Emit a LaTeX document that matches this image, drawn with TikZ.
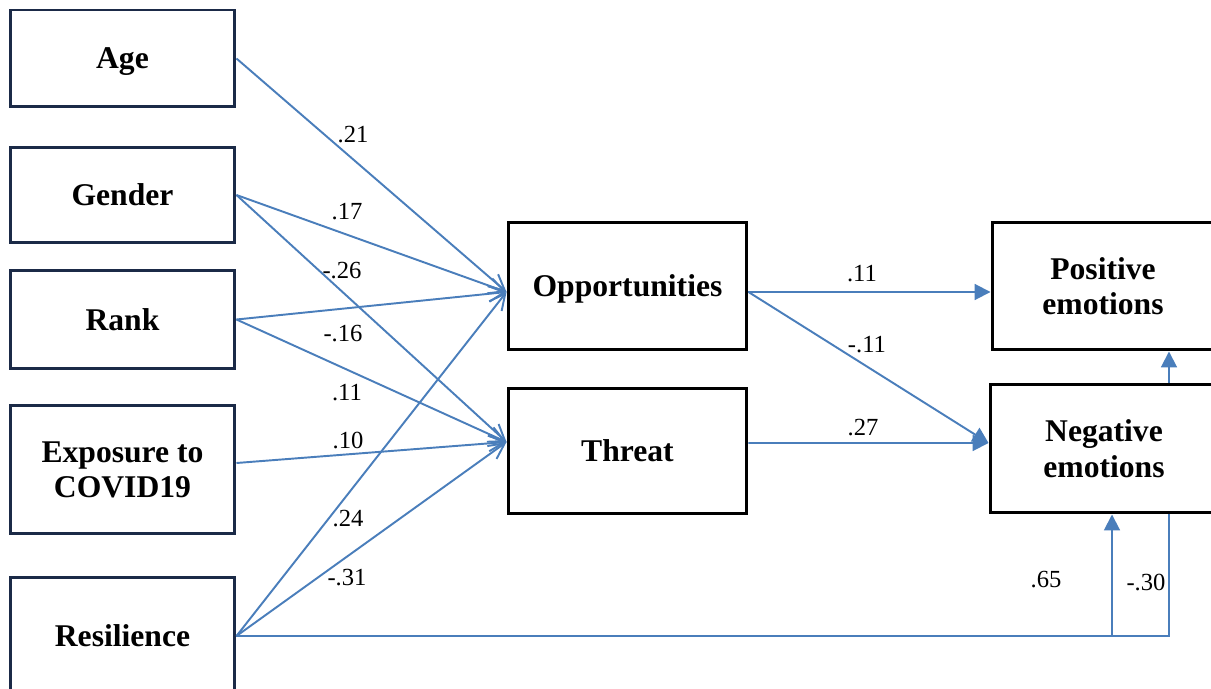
\documentclass[tikz,border=0pt]{standalone}
\usepackage{fontspec}
\setmainfont{Liberation Serif}
\usetikzlibrary{arrows.meta}
\definecolor{pathblue}{HTML}{4A7EBB}
\definecolor{boxnavy}{HTML}{1B2A47}

\begin{document}
\begin{tikzpicture}[x = 0.02cm, y = -0.02cm,
        leftbox/.style = {draw = boxnavy, line width = 1.7pt, minimum width = 4.5cm, align = center, text depth = 0pt, font = \fontsize{18}{20}\selectfont\bfseries},
        rightbox/.style = {draw = black, line width = 1.7pt, align = center, text depth = 0pt, font = \fontsize{18}{20}\selectfont\bfseries},
        link/.style = {pathblue, line width = 1.1pt, -{Straight Barb[length = 9pt, width = 9pt]}},
        flow/.style = {pathblue, line width = 1.1pt, -{Triangle[length = 9pt, width = 9pt]}},
        wire/.style = {pathblue, line width = 1.1pt},
        coef/.style = {font = \fontsize{14}{16}\selectfont, inner sep = 0pt}]
        \useasboundingbox (0, 0) rectangle (1211, 689);
        \clip (0, 0) rectangle (1211, 689);

        % predictors
        \node[leftbox, minimum height = 1.94cm] (age) at (122.5, 58.5) {Age};
        \node[leftbox, minimum height = 1.92cm] (gender) at (122.5, 195) {Gender};
        \node[leftbox, minimum height = 1.98cm] (rank) at (122.5, 319.5) {Rank};
        \node[leftbox, minimum height = 2.58cm] (expo) at (122.5, 469.5) {Exposure to\\COVID19};
        \node[leftbox, minimum height = 2.36cm] (resil) at (122.5, 636) {Resilience};

        % appraisals and outcomes
        \node[rightbox, minimum width = 4.78cm, minimum height = 2.56cm] (opp) at (627.5, 286) {Opportunities};
        \node[rightbox, minimum width = 4.78cm, minimum height = 2.52cm] (thr) at (627.5, 451) {Threat};
        \node[rightbox, minimum width = 4.44cm, minimum height = 2.56cm] (pos) at (1103, 286) {Positive\\emotions};
        \node[rightbox, minimum width = 4.56cm, minimum height = 2.58cm] (neg) at (1104, 448.5) {Negative\\emotions};

        \coordinate (expout) at ([yshift = 0.13cm]expo.east);
        \coordinate (oppin) at ([yshift = -0.12cm]opp.west);
        \coordinate (thrin) at ([yshift = 0.18cm]thr.west);
        \coordinate (oppout) at ([yshift = -0.12cm]opp.east);
        \coordinate (throut) at ([yshift = 0.16cm]thr.east);
        \coordinate (negin) at ([yshift = 0.11cm]neg.west);
        \coordinate (negtop) at ([xshift = 1.3cm]neg.north);
        \coordinate (negup) at ([xshift = 0.16cm]neg.south);
        \coordinate (negdown) at ([xshift = 1.3cm]neg.south);

        \draw[link] (age.east) -- (oppin);
        \draw[link] (gender.east) -- (oppin);
        \draw[link] (gender.east) -- (thrin);
        \draw[link] (rank.east) -- (oppin);
        \draw[link] (rank.east) -- (thrin);
        \draw[link] (expout) -- (thrin);
        \draw[link] (resil.east) -- (oppin);
        \draw[link] (resil.east) -- (thrin);

        \draw[flow] (oppout) -- (oppout -| pos.west);
        \draw[flow] (oppout) -- (negin);
        \draw[flow] (throut) -- (negin);
        \draw[flow] (negtop) -- (negtop |- pos.south);
        \draw[wire] (resil.east) -| (negdown);
        \draw[flow] (negup |- resil.east) -- (negup);

        % coefficients
        \node[coef] (w-age-opp) at (353, 135) {.21};
        \node[coef] (w-gen-opp) at (347, 212) {.17};
        \node[coef] (w-gen-thr) at (342, 271) {-.26};
        \node[coef] (w-rank-opp) at (343, 334) {-.16};
        \node[coef] (w-rank-thr) at (347, 393) {.11};
        \node[coef] (w-exp-thr) at (348, 440) {.10};
        \node[coef] (w-res-opp) at (348, 519) {.24};
        \node[coef] (w-res-thr) at (347, 578) {-.31};
        \node[coef] (w-opp-pos) at (862, 274) {.11};
        \node[coef] (w-opp-neg) at (867, 345) {-.11};
        \node[coef] (w-thr-neg) at (863, 428) {.27};
        \node[coef] (w-res-neg) at (1046, 580) {.65};
        \node[coef] (w-res-pos) at (1146, 582) {-.30};
    \end{tikzpicture}
\end{document}
